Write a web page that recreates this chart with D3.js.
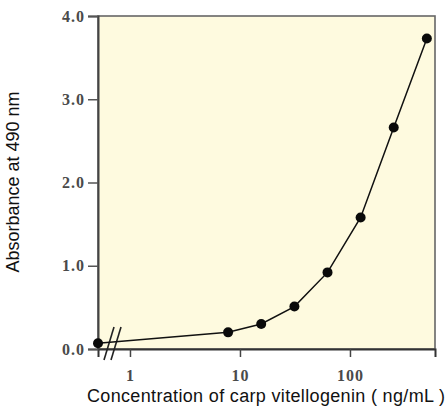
<!DOCTYPE html>
<html>
<head>
<meta charset="utf-8">
<script src="https://cdn.jsdelivr.net/npm/d3@7"></script>
<style>
  body { margin: 0; background: #fff; }
  .tick text { font-family: "Liberation Serif", "DejaVu Serif", serif; font-size: 16px; font-weight: bold; fill: #4a4a4a; letter-spacing: 1px; }
  .axis-title { font-family: "Liberation Sans", Arial, sans-serif; font-size: 18px; fill: #111; }
</style>
</head>
<body>
<div id="chart"></div>
<script>
// concentration (ng/mL), 0 = blank drawn at the axis break
const concentrations = [0, 7.8, 15.6, 31.25, 62.5, 125, 250, 500];
const absorbance = [0.07, 0.20, 0.30, 0.51, 0.92, 1.58, 2.66, 3.73];
const xTicks = [1, 10, 100];
const yTicks = [0, 1, 2, 3, 4];

const width = 448, height = 414;
const plot = {left: 98, right: 435, top: 16, bottom: 349};

const svg = d3.select("#chart")
              .append("svg")
              .attr("width", width)
              .attr("height", height);

const xScale = d3.scaleLog()
                 .domain([0.512, 593])
                 .range([plot.left, plot.right]);
const yScale = d3.scaleLinear()
                 .domain([0, 4])
                 .range([plot.bottom, plot.top]);

const xPos = c => c === 0 ? xScale(xScale.domain()[0]) : xScale(c);

svg.append("rect")
   .attr("x", plot.left)
   .attr("y", plot.top)
   .attr("width", plot.right - plot.left)
   .attr("height", plot.bottom - plot.top)
   .attr("fill", "#fefadf")
   .attr("stroke", "#666")
   .attr("stroke-width", 1.6);

const xAxis = d3.axisBottom(xScale)
                .tickValues(xTicks)
                .tickFormat(d3.format("d"))
                .tickSize(8)
                .tickPadding(13);
const yAxis = d3.axisLeft(yScale)
                .tickValues(yTicks)
                .tickFormat(d3.format(".1f"))
                .tickSize(10)
                .tickPadding(3);

svg.append("g")
   .attr("class", "axis x-axis")
   .attr("transform", `translate(0, ${plot.bottom})`)
   .call(xAxis)
   .call(g => g.select(".domain").attr("stroke", "#333").attr("stroke-width", 2))
   .call(g => g.selectAll(".tick line").attr("stroke", "#444").attr("stroke-width", 1.5));

svg.append("g")
   .attr("class", "axis y-axis")
   .attr("transform", `translate(${plot.left}, 0)`)
   .call(yAxis)
   .call(g => g.select(".domain").attr("stroke", "#444").attr("stroke-width", 2))
   .call(g => g.selectAll(".tick line").attr("stroke", "#555").attr("stroke-width", 1.5));

// axis break marks
const breakX = [108, 115];
breakX.forEach(bx => {
  svg.append("line")
     .attr("x1", bx - 4).attr("y1", plot.bottom + 11)
     .attr("x2", bx + 6).attr("y2", plot.bottom - 22)
     .attr("stroke", "#222")
     .attr("stroke-width", 1.6);
});

const line = d3.line()
               .x((d, i) => xPos(concentrations[i]))
               .y(d => yScale(d));

svg.append("path")
   .datum(absorbance)
   .attr("fill", "none")
   .attr("stroke", "#111")
   .attr("stroke-width", 1.5)
   .attr("d", line);

svg.selectAll("circle.pt")
   .data(absorbance)
   .enter()
   .append("circle")
   .attr("class", "pt")
   .attr("cx", (d, i) => xPos(concentrations[i]))
   .attr("cy", d => yScale(d))
   .attr("r", 5)
   .attr("fill", "#0a0a0a");

svg.append("text")
   .attr("class", "axis-title")
   .attr("x", 266)
   .attr("y", 402)
   .attr("text-anchor", "middle")
   .attr("textLength", 358)
   .text("Concentration of carp vitellogenin ( ng/mL )");

svg.append("text")
   .attr("class", "axis-title")
   .attr("transform", `translate(19, 182) rotate(-90)`)
   .attr("text-anchor", "middle")
   .text("Absorbance at 490 nm");
</script>
</body>
</html>
